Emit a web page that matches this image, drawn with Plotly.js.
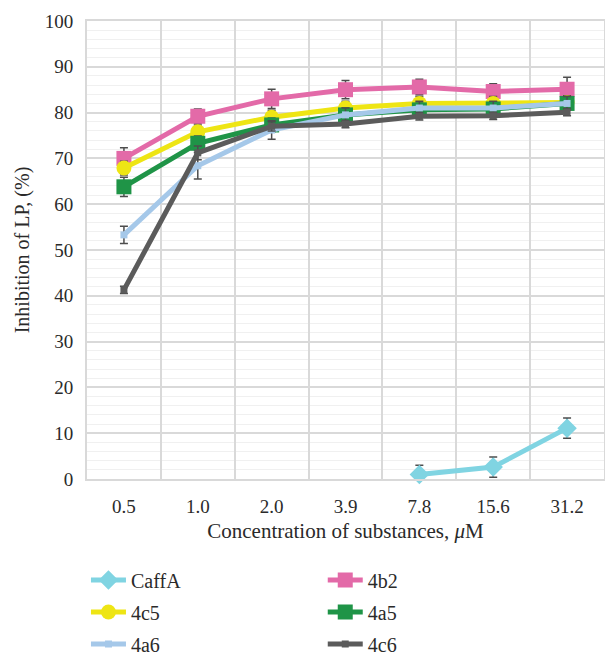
<!DOCTYPE html>
<html><head><meta charset="utf-8">
<script src="https://cdn.plot.ly/plotly-3.0.1.min.js"></script>
<style>body{margin:0;background:#fff}#c{width:605px;height:658px}</style>
</head><body><div id="c"></div>
<script>
const categories = ["0.5","1.0","2.0","3.9","7.8","15.6","31.2"];
const caffA = [null,null,null,null,1.0,2.6,11.1];
const caffAErr = [null,null,null,null,2.0,2.2,2.2];
const s4b2 = [70.0,79.2,83.0,85.0,85.6,84.6,85.1];
const s4b2Err = [2.3,1.6,2.1,2.0,1.7,1.7,2.6];
const s4c5 = [67.9,75.8,79.0,81.0,82.0,82.0,82.2];
const s4c5Err = [1.5,1.5,1.5,1.5,1.5,1.5,1.5];
const s4a5 = [63.8,73.3,77.3,79.5,80.6,80.8,82.0];
const s4a5Err = [2.1,1.6,1.5,1.5,1.5,1.5,1.5];
const s4a6 = [53.3,68.4,76.2,79.5,81.0,81.0,82.0];
const s4a6Err = [1.9,2.9,2.0,1.5,1.5,1.5,1.5];
const s4c6 = [41.3,71.2,77.0,77.5,79.2,79.3,80.1];
const s4c6Err = [0.8,1.5,1.0,0.8,0.8,0.8,0.8];

const errColor = '#4d4d4d';
function tr(name, y, err, color, symbol, msize, legend){
  return {
    type:'scatter', mode:'lines+markers', name:name, x:categories, y:y,
    legend:legend, legendgroup:name,
    line:{color:color, width:5}, marker:{color:color, symbol:symbol, size:msize},
    error_y:{type:'data', array:err, visible:true, color:errColor, thickness:1.5, width:4},
    connectgaps:false, cliponaxis:false
  };
}
const data = [
  tr('CaffA', caffA, caffAErr, '#80d4e2', 'diamond', 15, 'legend'),
  tr('4b2', s4b2, s4b2Err, '#e36aa8', 'square', 15, 'legend2'),
  tr('4c5', s4c5, s4c5Err, '#eee514', 'circle', 15, 'legend'),
  tr('4a5', s4a5, s4a5Err, '#1f9447', 'square', 15, 'legend2'),
  tr('4a6', s4a6, s4a6Err, '#a5c8e9', 'square', 7, 'legend'),
  tr('4c6', s4c6, s4c6Err, '#5b5b5b', 'square', 7, 'legend2')
];
const font = {family:'Liberation Serif, serif', size:19, color:'#2a2a2a'};
const legendBase = {
  orientation:'v', yanchor:'top', y:-0.178, xanchor:'left',
  font:{family:'Liberation Serif, serif', size:20, color:'#2a2a2a'},
  tracegroupgap:3, itemwidth:35, bgcolor:'rgba(0,0,0,0)'
};
const layout = {
  width:605, height:658,
  margin:{l:87, r:1, t:21, b:179, autoexpand:false},
  paper_bgcolor:'#fff', plot_bgcolor:'#fff',
  font:font,
  showlegend:true,
  legend:Object.assign({}, legendBase, {x:-0.002}),
  legend2:Object.assign({}, legendBase, {x:0.456}),
  xaxis:{
    type:'category', range:[-0.5,6.5], tickson:'boundaries',
    showgrid:true, gridcolor:'#d9d9d9', gridwidth:2,
    showline:true, linecolor:'#d9d9d9', linewidth:2, mirror:true,
    ticks:'', ticklabelstandoff:9, tickfont:{size:19},
    title:{text:'Concentration of substances, <i>μ</i>M', font:{size:21}, standoff:8},
    zeroline:false
  },
  yaxis:{
    range:[0,100], dtick:10, tick0:0,
    showgrid:true, gridcolor:'#d9d9d9', gridwidth:2,
    minor:{dtick:2, showgrid:true, gridcolor:'#f0f0f0', gridwidth:1},
    showline:true, linecolor:'#d9d9d9', linewidth:2, mirror:true,
    ticks:'', ticklabelstandoff:8, tickfont:{size:19},
    title:{text:'Inhibition of LP, (%)', font:{size:20}, standoff:10},
    zeroline:false
  }
};
Plotly.newPlot('c', data, layout, {displayModeBar:false, staticPlot:true});
</script></body></html>
